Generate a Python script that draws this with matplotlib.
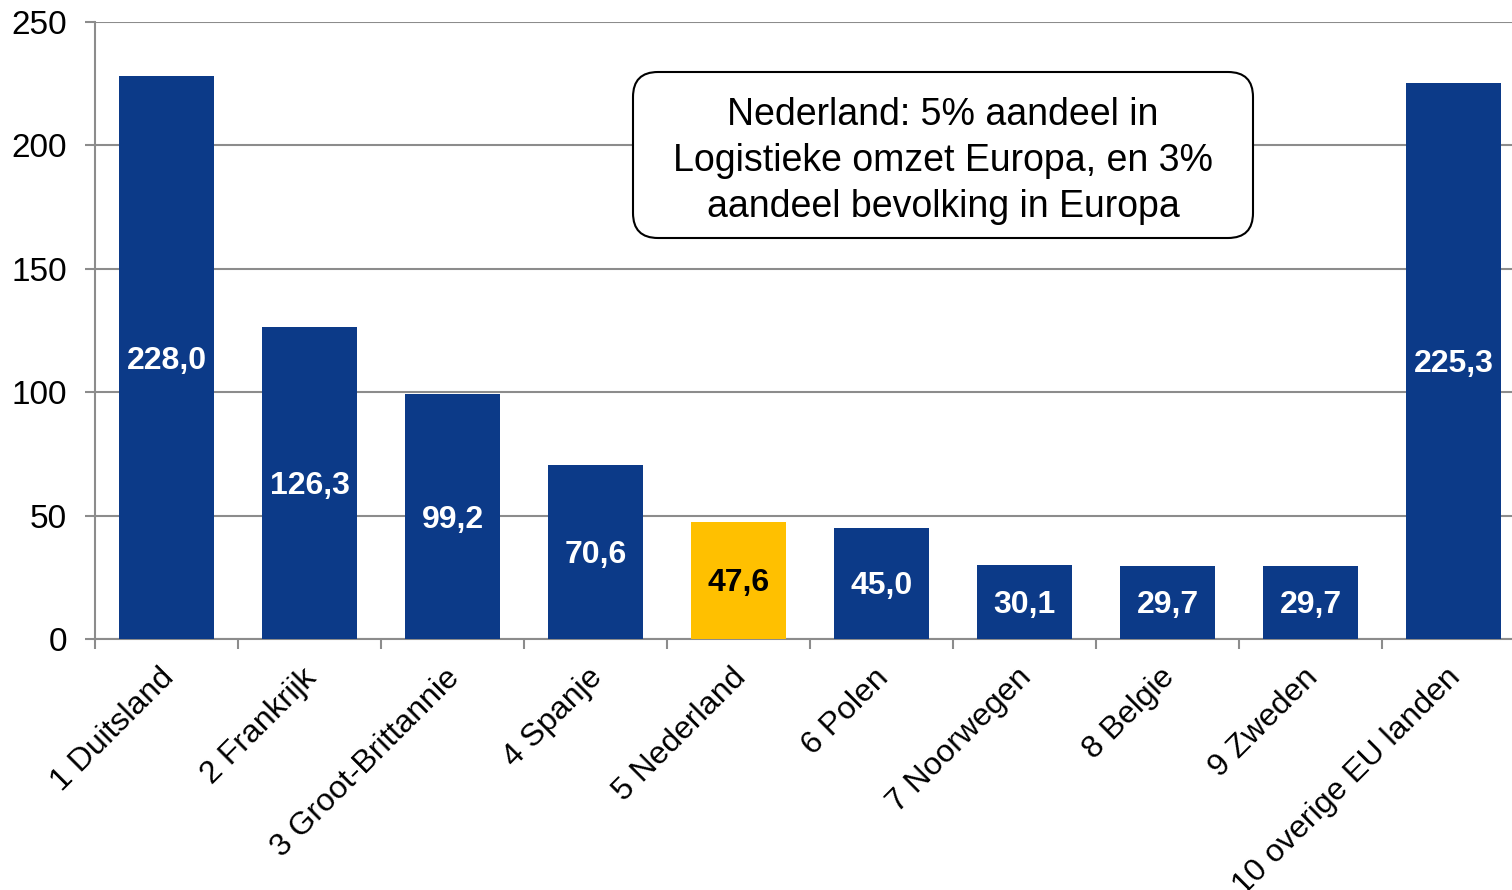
import matplotlib
matplotlib.use('Agg')
import matplotlib.pyplot as plt
import matplotlib.transforms as mtransforms
from matplotlib.patches import FancyBboxPatch

# logistieke omzet per land (mld euro)
landen = ['1 Duitsland', '2 Frankrijk', '3 Groot-Brittannie', '4 Spanje',
          '5 Nederland', '6 Polen', '7 Noorwegen', '8 Belgie', '9 Zweden',
          '10 overige EU landen']
omzet = [228.0, 126.3, 99.2, 70.6, 47.6, 45.0, 30.1, 29.7, 29.7, 225.3]
highlight = '5 Nederland'
yticks = [0, 50, 100, 150, 200, 250]
box_tekst = ('Nederland: 5% aandeel in\n'
             'Logistieke omzet Europa, en 3%\n'
             'aandeel bevolking in Europa')

BLUE = '#0C3A88'
GOLD = '#FFC000'
GRAY = '#8C8C8C'

plt.rcParams['font.family'] = ['Liberation Sans', 'DejaVu Sans']

fig = plt.figure(figsize=(15.12, 8.9), dpi=100)
ax = fig.add_axes([95 / 1512, 251 / 890, 1430 / 1512, 617 / 890])

x = list(range(len(landen)))
kleuren = [GOLD if l == highlight else BLUE for l in landen]
ax.bar(x, omzet, width=0.664, color=kleuren, zorder=3)

for i, v in enumerate(omzet):
    txt_kleur = 'black' if landen[i] == highlight else 'white'
    ax.text(i, v / 2 - 1.2, ('%.1f' % v).replace('.', ','), ha='center',
            va='center', color=txt_kleur, fontsize=23, fontweight='bold',
            zorder=4)

ax.set_xlim(-0.5, len(landen) - 0.5)
ax.set_ylim(0, 250)
ax.set_yticks(yticks)
ax.tick_params(axis='y', labelsize=24, length=7, width=1.5, color=GRAY, pad=13)
ax.yaxis.grid(True, color=GRAY, linewidth=1.5, zorder=0)

ax.set_xticks([i - 0.5 for i in range(len(landen) + 1)])
ax.set_xticklabels([])
ax.tick_params(axis='x', length=7, width=1.5, color=GRAY, direction='out')
ax.set_xticks(x, minor=True)
ax.set_xticklabels(landen, minor=True, rotation=45, ha='right',
                   rotation_mode='anchor', fontsize=23)
ax.tick_params(axis='x', which='minor', length=0, pad=17)
offset = mtransforms.ScaledTranslation(-0.08, 0, fig.dpi_scale_trans)
for lab in ax.get_xticklabels(minor=True):
    lab.set_transform(lab.get_transform() + offset)

for side in ['top', 'right']:
    ax.spines[side].set_visible(False)
for side in ['left', 'bottom']:
    ax.spines[side].set_color(GRAY)
    ax.spines[side].set_linewidth(1.5)

box = FancyBboxPatch((6.33, 6.52), 6.20, 1.66,
                     boxstyle='round,pad=0,rounding_size=0.25',
                     transform=fig.dpi_scale_trans, facecolor='white',
                     edgecolor='black', linewidth=1.5, zorder=5)
fig.patches.append(box)
fig.text(943 / 1512, 1 - 161 / 890, box_tekst, ha='center', va='center',
         fontsize=27, linespacing=1.35, zorder=6)

fig.savefig('out.png', dpi=100)
